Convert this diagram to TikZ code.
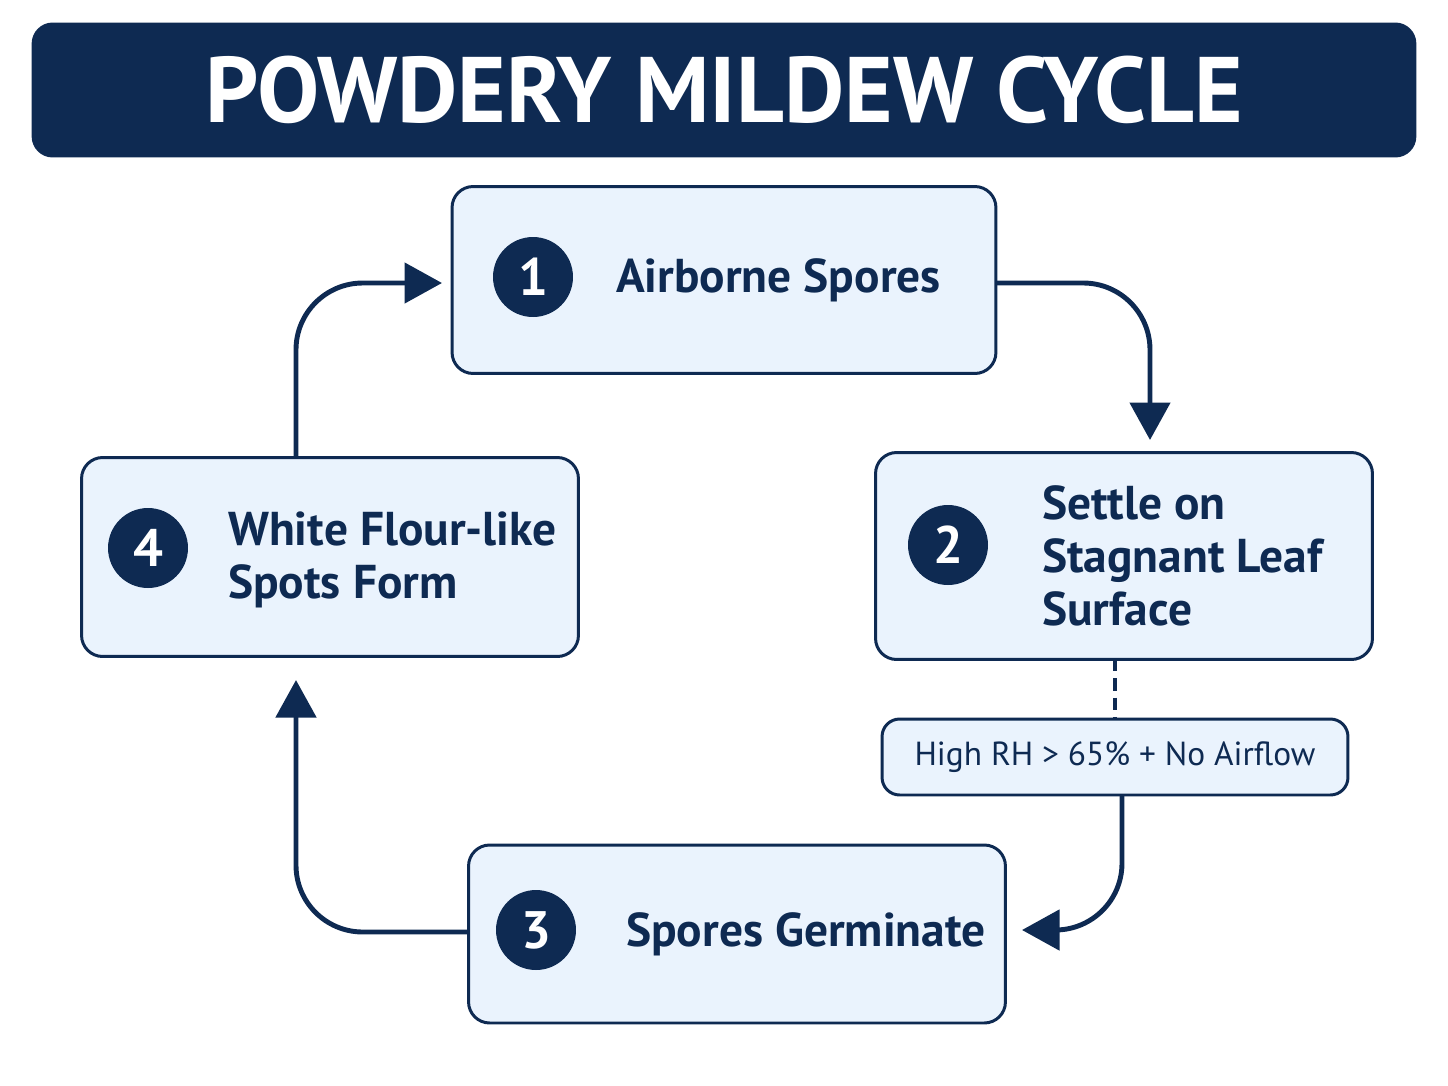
\documentclass[tikz,border=0pt]{standalone}
\usepackage{fontspec}
\setmainfont{PT Sans}
\usetikzlibrary{arrows.meta,positioning}
\definecolor{navy}{HTML}{0E2A52}
\definecolor{pale}{HTML}{EAF3FD}
\tikzset{
  stage/.style={draw=navy, fill=pale, line width=1.7pt, rounded corners=12pt},
  num/.style={circle, fill=navy, text=white, minimum size=1.6cm, inner sep=0pt, font=\fontsize{30}{30}\selectfont\bfseries},
  lbl/.style={text=navy, align=left, font=\fontsize{27}{30}\selectfont\bfseries},
  flow/.style={draw=navy, line width=2.8pt, rounded corners=38pt, -{Triangle[length=0.75cm,width=0.8cm]}},
}
\begin{document}
\begin{tikzpicture}[x=0.02cm, y=-0.02cm]
\useasboundingbox (0,0) rectangle (1448,1086);
% title
\node[fill=navy, rounded corners=12pt, minimum width=27.7cm, minimum height=2.7cm, text=white,
  font=\fontsize{53}{53}\selectfont\bfseries] (title) at (724,90) {POWDERY MILDEW CYCLE};
% steps
\node[stage, minimum width=10.88cm, minimum height=3.74cm] (s1) at (724,280) {};
\node[stage, minimum width=9.94cm, minimum height=4.14cm] (s2) at (1124,556) {};
\node[stage, minimum width=10.74cm, minimum height=3.56cm] (s3) at (737,934) {};
\node[stage, minimum width=9.94cm, minimum height=3.98cm] (s4) at (330,557) {};
\node[stage, minimum width=9.32cm, minimum height=1.52cm, rounded corners=10pt] (cond) at (1115,757) {};
\node[text=navy, font=\fontsize{19}{19}\selectfont] at (cond) {High RH > 65\% + No Airflow};
\node[num] (n1) at (533,277) {1};
\node[num] (n2) at (948,545) {2};
\node[num] (n3) at (536,930) {3};
\node[num] (n4) at (148,548) {4};
\node[lbl, anchor=west] at (610,280) {Airborne Spores};
\node[lbl, anchor=west] at (1036,556) {Settle on\\Stagnant Leaf\\Surface};
\node[lbl, anchor=west] at (620,934) {Spores Germinate};
\node[lbl, anchor=west] at (222,560) {White Flour-like\\Spots Form};
% connectors
\coordinate (b1) at (996,283);
\coordinate (a1) at (1150,440);
\coordinate (b2) at (1115,659);
\coordinate (c2) at (1115,719);
\coordinate (b3) at (1122,795);
\coordinate (a3) at (1022,930);
\coordinate (b4) at (469,932);
\coordinate (a4) at (296,680);
\coordinate (b5) at (296,458);
\coordinate (a0) at (442,283);
\draw[flow] (b1) -- (1150,283) -- (a1);
\draw[navy, line width=1.8pt, dash pattern=on 7pt off 4pt] (b2) -- (c2);
\draw[flow] (b3) -- (1122,930) -- (a3);
\draw[flow] (b4) -- (296,932) -- (a4);
\draw[flow] (b5) -- (296,283) -- (a0);
\end{tikzpicture}
\end{document}
